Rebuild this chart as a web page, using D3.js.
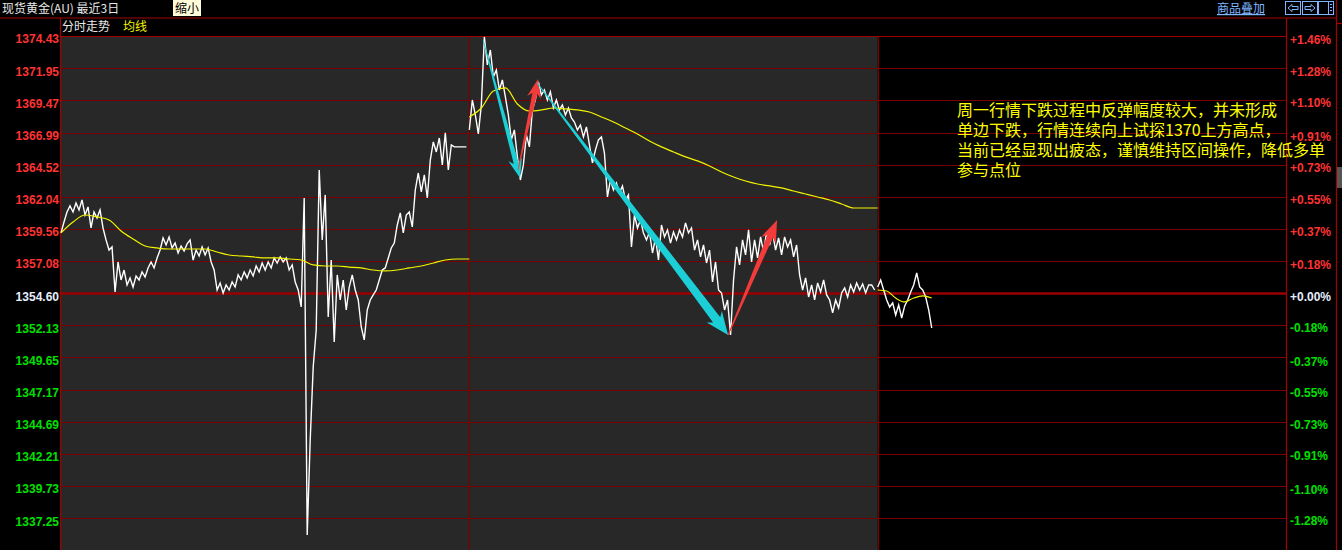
<!DOCTYPE html>
<html><head><meta charset="utf-8">
<script src="https://cdn.jsdelivr.net/npm/d3@7"></script>
<style>
html,body{margin:0;padding:0;background:#000;overflow:hidden}
svg{display:block}
</style></head><body><svg id="c" width="1342" height="550"></svg>
<script>
// ---------- DATA ----------
const basePrice = 1354.60;
const slotsPerDay = 136;
const dayCount = 3;

const day1Prices = [1359.25,1360.09,1360.86,1361.33,1360.86,1361.56,1361.02,1361.79,1360.63,1361.25,
1359.63,1360.86,1360.40,1361.02,1359.63,1358.71,1357.93,1358.17,1354.70,1357.01,
1355.62,1356.39,1355.24,1355.78,1355.08,1355.93,1355.62,1356.24,1355.85,1356.55,
1357.01,1356.55,1357.32,1357.93,1358.86,1358.32,1358.94,1358.09,1358.47,1357.70,
1358.24,1357.86,1358.40,1358.71,1357.16,1357.93,1357.47,1358.17,1357.55,1358.09,
1357.01,1356.39,1354.85,1355.39,1354.62,1355.24,1354.85,1355.47,1355.08,1356.01,
1355.62,1356.24,1355.78,1356.39,1355.93,1356.70,1356.24,1356.93,1356.39,1357.01,
1356.55,1357.32,1356.93,1357.40,1357.01,1357.32,1356.39,1356.78,1355.47,1354.85,
1353.54,1361.94,1335.96,1343.29,1348.91,1351.77,1364.10,1358.71,1362.18,1352.77,
1357.16,1350.84,1356.01,1354.08,1355.62,1353.31,1355.08,1356.01,1354.85,1354.08,
1352.00,1351.00,1353.31,1354.08,1354.47,1354.85,1355.62,1356.39,1356.55,1357.32,
1358.09,1358.47,1359.86,1360.79,1359.25,1360.63,1360.86,1359.71,1362.56,1363.87,
1362.41,1363.72,1361.94,1364.87,1366.26,1365.49,1366.57,1364.49,1366.96,1364.10,
1366.03,1365.88,1365.88,1365.88,1365.88,1365.88];

const day2Prices = [1367.19,1369.50,1368.34,1366.88,1369.11,1374.36,1372.20,1373.35,1371.27,1371.81,
1370.27,1371.04,1369.73,1368.34,1366.42,1367.19,1365.11,1363.33,1364.49,1366.80,
1365.88,1368.73,1369.50,1370.89,1369.89,1370.27,1369.50,1370.12,1368.88,1369.50,
1368.73,1369.11,1368.34,1368.88,1368.11,1367.80,1367.19,1367.57,1366.65,1367.42,
1366.03,1364.64,1365.64,1366.42,1366.65,1365.41,1362.02,1363.33,1362.56,1363.10,
1362.33,1362.87,1361.79,1362.18,1358.17,1360.63,1359.63,1360.25,1359.25,1358.71,
1359.32,1357.70,1358.86,1357.16,1359.86,1358.94,1359.48,1358.47,1359.32,1358.71,
1359.48,1358.94,1360.02,1359.25,1359.63,1357.93,1358.71,1357.40,1358.32,1356.93,
1357.93,1355.47,1357.01,1354.85,1354.62,1353.31,1354.08,1351.38,1355.62,1358.17,
1356.78,1358.71,1357.55,1359.48,1357.01,1358.71,1357.32,1358.94,1357.78,1359.32,
1358.32,1359.25,1357.93,1358.86,1357.55,1358.94,1358.17,1358.71,1357.40,1358.32,
1356.01,1354.85,1355.78,1354.31,1355.24,1354.08,1355.39,1354.70,1355.62,1354.47,
1354.08,1353.08,1354.08,1353.46,1354.62,1355.01,1354.31,1355.24,1354.70,1355.39,
1354.85,1355.31,1354.62,1355.24,1355.24,1354.85];

const day3Prices = [1355.08,1355.62,1354.85,1354.08,1353.54,1353.85,1352.92,1353.69,1352.69,1353.62,
1354.08,1354.70,1355.24,1356.16,1355.08,1354.85,1354.31,1353.31,1351.92];

// average line (均线), sampled every avgSteps[d] slots
const day1Avg = [1359.25,1360.09,1360.63,1360.48,1360.25,1359.40,1358.78,1358.24,1358.09,1358.01,
1358.01,1358.01,1358.01,1357.78,1357.55,1357.47,1357.40,1357.32,1357.32,1357.24,
1357.16,1356.78,1356.70,1356.70,1356.62,1356.55,1356.39,1356.32,1356.39,1356.55,
1356.70,1356.93,1357.16,1357.24,1357.24];
const day2Avg = [1368.19,1368.88,1370.19,1370.43,1369.19,1368.65,1368.73,1368.88,1368.81,1368.73,
1368.57,1368.19,1367.80,1367.34,1366.88,1366.34,1365.88,1365.49,1365.11,1364.80,
1364.41,1363.95,1363.56,1363.25,1363.02,1362.87,1362.72,1362.48,1362.25,1362.02,
1361.79,1361.48,1361.17,1361.17,1361.17];
const day3Avg = [1354.85,1354.77,1354.23,1353.93,1354.23,1354.39,1354.23];
const avgSteps = [4, 4, 3];

const priceTicks = [1374.43,1371.95,1369.47,1366.99,1364.52,1362.04,1359.56,1357.08,1354.60,
1352.13,1349.65,1347.17,1344.69,1342.21,1339.73,1337.25];
const pctTicks = [1.46,1.28,1.10,0.91,0.73,0.55,0.37,0.18,0.00,-0.18,-0.37,-0.55,-0.73,-0.91,-1.10,-1.28];

// annotation arrows: [global slot, price]
const arrowFrom = [[140.6,1374.13],[152.2,1364.10],[158.6,1370.81],[222.2,1351.38]];
const arrowTo   = [[152.9,1363.49],[158.9,1371.12],[222.2,1351.38],[238.5,1360.25]];
const arrowKind = ["down","up","down","up"];

const titleText = "现货黄金(AU) 最近3日";
const noteLines = ["周一行情下跌过程中反弹幅度较大，并未形成",
"单边下跌，行情连续向上试探1370上方高点，",
"当前已经显现出疲态，谨慎维持区间操作，降低多单",
"参与点位"];

// ---------- DRAW ----------
const svg = d3.select("#c");
const W = 1342, H = 550;
const plotL = 61, plotR = 1286, plotT = 36;
const x = d3.scaleLinear().domain([0, slotsPerDay*dayCount]).range([plotL, plotR]);
const y = d3.scaleLinear().domain([1337.25, 1374.43]).range([518.3, 36]);
const yPct = d3.scaleLinear().domain([(1337.25/basePrice-1)*100, (1374.43/basePrice-1)*100]).range([518.3, 36]);

const RED_LINE = "#a40000", GRID = "#7a0000";
svg.append("rect").attr("width", W).attr("height", H).attr("fill", "#000");

// gray panel for the two completed days
svg.append("rect").attr("x", x(0)).attr("y", plotT+1)
  .attr("width", x(slotsPerDay*2) - x(0)).attr("height", H-plotT-1).attr("fill", "#282828");

// horizontal grid
svg.append("g").selectAll("line").data(priceTicks).join("line")
  .attr("x1", plotL-1).attr("x2", plotR)
  .attr("y1", d => Math.round(y(d))+0.5).attr("y2", d => Math.round(y(d))+0.5)
  .attr("stroke", d => d === basePrice ? "#9a0000" : (d === priceTicks[0] ? RED_LINE : GRID))
  .attr("stroke-width", d => d === basePrice ? 2.5 : 1);

// day separators
svg.append("g").selectAll("line").data([slotsPerDay, slotsPerDay*2]).join("line")
  .attr("x1", d => Math.round(x(d))+0.5).attr("x2", d => Math.round(x(d))+0.5)
  .attr("y1", plotT).attr("y2", H).attr("stroke", GRID).attr("stroke-width", 1.2);

// frame lines
const frame = svg.append("g").attr("stroke", RED_LINE).attr("stroke-width", 1.2);
frame.append("line").attr("x1", 0).attr("x2", 1337).attr("y1", 18).attr("y2", 18);
frame.append("line").attr("x1", 60.5).attr("x2", 60.5).attr("y1", 18).attr("y2", H);
frame.append("line").attr("x1", 1286.5).attr("x2", 1286.5).attr("y1", 18).attr("y2", H);
frame.append("line").attr("x1", 1336.5).attr("x2", 1336.5).attr("y1", 0).attr("y2", H);
frame.append("line").attr("x1", 1336).attr("x2", 1342).attr("y1", 23.5).attr("y2", 23.5);
svg.append("rect").attr("x", 1337).attr("y", 167).attr("width", 5).attr("height", 21).attr("fill", "#555");

// price lines
const days = [day1Prices, day2Prices, day3Prices];
const avgs = [day1Avg, day2Avg, day3Avg];
days.forEach((arr, d) => {
  const line = d3.line().x((v, i) => x(d*slotsPerDay + i)).y(v => y(v));
  svg.append("path").datum(arr).attr("d", line)
    .attr("fill", "none").attr("stroke", "#fff").attr("stroke-width", 1.4)
    .attr("stroke-linejoin", "miter");
});
avgs.forEach((arr, d) => {
  const line = d3.line().x((v, i) => x(d*slotsPerDay + i*avgSteps[d])).y(v => y(v)).curve(d3.curveMonotoneX);
  svg.append("path").datum(arr).attr("d", line)
    .attr("fill", "none").attr("stroke", "#f4f400").attr("stroke-width", 1.2);
});

// arrows
const arrowStyle = {
  down: {fill: "#1ccfd6"},
  up: {fill: "#f23c3c"}
};
const arrowSize = [[0.8,5,14,15],[0.8,5,14,15],[1,9,19,19],[1,6,16,18]];
arrowFrom.forEach((f, k) => {
  const x0 = x(f[0]), y0 = y(f[1]);
  const x1 = x(arrowTo[k][0]), y1 = y(arrowTo[k][1]);
  const L = Math.hypot(x1-x0, y1-y0);
  const ux = (x1-x0)/L, uy = (y1-y0)/L, vx = -uy, vy = ux;
  const [w0, w1, wh, hl] = arrowSize[k];
  const notch = 4;
  const P = (u, v) => [x0 + ux*u + vx*v, y0 + uy*u + vy*v];
  const pts = [P(0,-w0/2), P(L-hl,-w1/2), P(L-hl-notch,-wh/2), P(L,0),
               P(L-hl-notch, wh/2), P(L-hl, w1/2), P(0, w0/2)];
  svg.append("polygon").attr("points", pts.map(p => p.join(",")).join(" "))
    .attr("fill", arrowStyle[arrowKind[k]].fill);
});

// axes
const colorFor = v => Math.abs(v - basePrice) < 0.001 ? "#e6eeff" : (v > basePrice ? "#ff3333" : "#00e000");
const colorPct = v => v === 0 ? "#e6eeff" : (v > 0 ? "#ff3333" : "#00e000");
const leftAxis = d3.axisLeft(y).tickValues(priceTicks).tickFormat(d3.format(".2f")).tickSize(0).tickPadding(0);
const gL = svg.append("g").attr("transform", "translate(59,3)").call(leftAxis);
gL.select(".domain").remove();
gL.selectAll("text").attr("font-family", "'Liberation Sans', Arial, sans-serif")
  .attr("font-size", 12).attr("font-weight", "bold").attr("fill", d => colorFor(d));

const rightAxis = d3.axisRight(yPct).tickValues(pctTicks)
  .tickFormat(v => (v >= 0 ? "+" : "") + v.toFixed(2) + "%").tickSize(0).tickPadding(0);
const gR = svg.append("g").attr("transform", "translate(1290,3)").call(rightAxis);
gR.select(".domain").remove();
gR.selectAll("text").attr("font-family", "'Liberation Sans', Arial, sans-serif")
  .attr("font-size", 12).attr("font-weight", "bold").attr("fill", d => colorPct(d));

// header
const cjk = "'Noto Sans CJK SC','Noto Sans',sans-serif";
svg.append("text").attr("x", 2).attr("y", 13).attr("font-family", cjk).attr("font-size", 12)
  .attr("fill", "#e8e8e8").text(titleText);
svg.append("rect").attr("x", 173).attr("y", 0).attr("width", 28).attr("height", 16).attr("fill", "#fffbd8");
svg.append("text").attr("x", 175).attr("y", 13).attr("font-family", cjk).attr("font-size", 12)
  .attr("fill", "#000").text("缩小");
svg.append("text").attr("x", 1217).attr("y", 13).attr("font-family", cjk).attr("font-size", 12)
  .attr("fill", "#7fb6ff").attr("text-decoration", "underline").text("商品叠加");
const icons = svg.append("g").attr("fill", "none").attr("stroke", "#7fb6ff").attr("stroke-width", 1);
[1285.5, 1302.5, 1318.5].forEach(ix => icons.append("rect").attr("x", ix).attr("y", 1.5).attr("width", 15).attr("height", 13));
icons.append("path").attr("d", "M1288,8 L1292,4.5 L1292,6.5 L1298,6.5 L1298,9.5 L1292,9.5 L1292,11.5 Z");
icons.append("path").attr("d", "M1315,8 L1311,4.5 L1311,6.5 L1305,6.5 L1305,9.5 L1311,9.5 L1311,11.5 Z");
icons.append("path").attr("d", "M1328.5,1.5 L1328.5,14.5 M1330,4.5 L1332,4.5 M1330,7.5 L1332,7.5 M1330,10.5 L1332,10.5");

svg.append("text").attr("x", 62).attr("y", 31).attr("font-family", cjk).attr("font-size", 12)
  .attr("fill", "#e8e8e8").text("分时走势");
svg.append("text").attr("x", 123).attr("y", 31).attr("font-family", cjk).attr("font-size", 12)
  .attr("fill", "#f4f400").text("均线");

// annotation
svg.append("g").selectAll("text").data(noteLines).join("text")
  .attr("x", 957).attr("y", (d, i) => 116 + i*20)
  .attr("font-family", cjk).attr("font-size", 16).attr("fill", "#ffff00").text(d => d);
</script></body></html>
